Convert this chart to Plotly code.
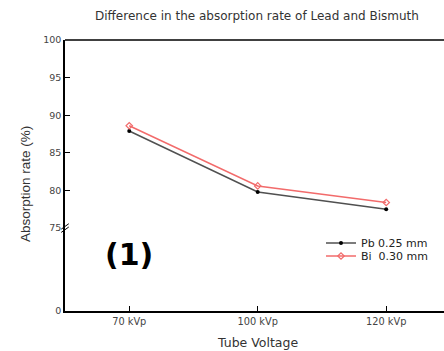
import plotly.graph_objects as go

categories = ["70 kVp", "100 kVp", "120 kVp"]
pb_values = [87.9, 79.8, 77.5]
bi_values = [88.6, 80.6, 78.4]
series_names = ["Pb 0.25 mm", "Bi  0.30 mm"]
y_top_ticks = [75, 80, 85, 90, 95, 100]
y_bottom_ticks = [0]

W, H = 444, 351
ML, MR, MT, MB = 65, 0, 40, 40
PW, PH = W - ML - MR, H - MT - MB
split = 0.306
FONT = "DejaVu Sans, Verdana, sans-serif"
ARIAL = "Liberation Sans, Arial, sans-serif"

def px_x(px):
    return (px - ML) / PW

def px_y(py):
    return (H - MB - py) / PH

fig = go.Figure()
fig.add_trace(go.Scatter(
    x=categories, y=pb_values, name=series_names[0], mode="lines+markers",
    line=dict(color="#505050", width=1.5),
    marker=dict(color="black", size=4, symbol="circle"),
    xaxis="x", yaxis="y", legend="legend"))
fig.add_trace(go.Scatter(
    x=categories, y=bi_values, name=series_names[1], mode="lines+markers",
    line=dict(color="#f26b6b", width=1.5),
    marker=dict(color="#f26b6b", size=5, symbol="diamond-open", line=dict(width=1.2)),
    xaxis="x", yaxis="y", legend="legend2"))
fig.add_trace(go.Scatter(x=categories, y=[None, None, None], showlegend=False,
                         hoverinfo="skip", xaxis="x", yaxis="y2"))

xtickfont = dict(family=FONT, size=9.8, color="#444")
ytickfont = dict(family=FONT, size=9.5, color="#444")
legfont = dict(family=FONT, size=11, color="#222")

fig.update_layout(
    width=W, height=H,
    margin=dict(l=ML, r=MR, t=MT, b=MB),
    paper_bgcolor="white", plot_bgcolor="white",
    showlegend=True,
    legend=dict(x=px_x(321), y=px_y(243), xanchor="left", yanchor="middle",
                font=legfont, bgcolor="rgba(0,0,0,0)", itemwidth=30),
    legend2=dict(x=px_x(321), y=px_y(256), xanchor="left", yanchor="middle",
                 font=legfont, bgcolor="rgba(0,0,0,0)", itemwidth=30),
    xaxis=dict(type="category", range=[-0.5, 2.45], anchor="y2", domain=[0, 1],
               showline=True, linecolor="black", linewidth=1.5,
               ticks="inside", ticklen=5, tickcolor="black",
               tickfont=xtickfont, showgrid=False, zeroline=False),
    yaxis=dict(domain=[split, 1], range=[75, 100], anchor="x",
               tickvals=y_top_ticks, ticktext=[str(v) for v in y_top_ticks],
               showline=True, linecolor="black", linewidth=1.5,
               ticks="inside", ticklen=5, tickcolor="black",
               tickfont=ytickfont, showgrid=False, zeroline=False),
    yaxis2=dict(domain=[0, split], range=[0, 75], anchor="x",
                tickvals=y_bottom_ticks, ticktext=[str(v) for v in y_bottom_ticks],
                showline=True, linecolor="black", linewidth=1.5,
                ticks="", tickfont=ytickfont, showgrid=False, zeroline=False),
)

# top frame line
fig.add_shape(type="line", xref="paper", yref="paper", x0=0, x1=1, y0=1, y1=1,
              line=dict(color="black", width=1.5))
# axis break marks
for dy in (-0.006, 0.006):
    fig.add_shape(type="line", xref="paper", yref="paper",
                  x0=-0.01, x1=0.01, y0=split + dy - 0.01, y1=split + dy + 0.01,
                  line=dict(color="black", width=1))

common = dict(xref="paper", yref="paper", showarrow=False, xanchor="center", yanchor="middle")
fig.add_annotation(text="Difference in the absorption rate of Lead and Bismuth",
                   x=px_x(257), y=px_y(16),
                   font=dict(family=FONT, size=12, color="#333"), **common)
fig.add_annotation(text="Absorption rate (%)",
                   x=px_x(25), y=px_y(184), textangle=-90,
                   font=dict(family=ARIAL, size=13.5, color="#333"), **common)
fig.add_annotation(text="Tube Voltage",
                   x=px_x(257), y=px_y(342),
                   font=dict(family=FONT, size=12.5, color="#333"), **common)
fig.add_annotation(text="<b>(1)</b>",
                   x=px_x(129), y=px_y(254),
                   font=dict(family=FONT, size=30, color="black"), **common)

fig.write_html("out.html", config={"displayModeBar": False},
               post_script="document.body.style.margin='0';document.body.style.overflow='hidden';")
